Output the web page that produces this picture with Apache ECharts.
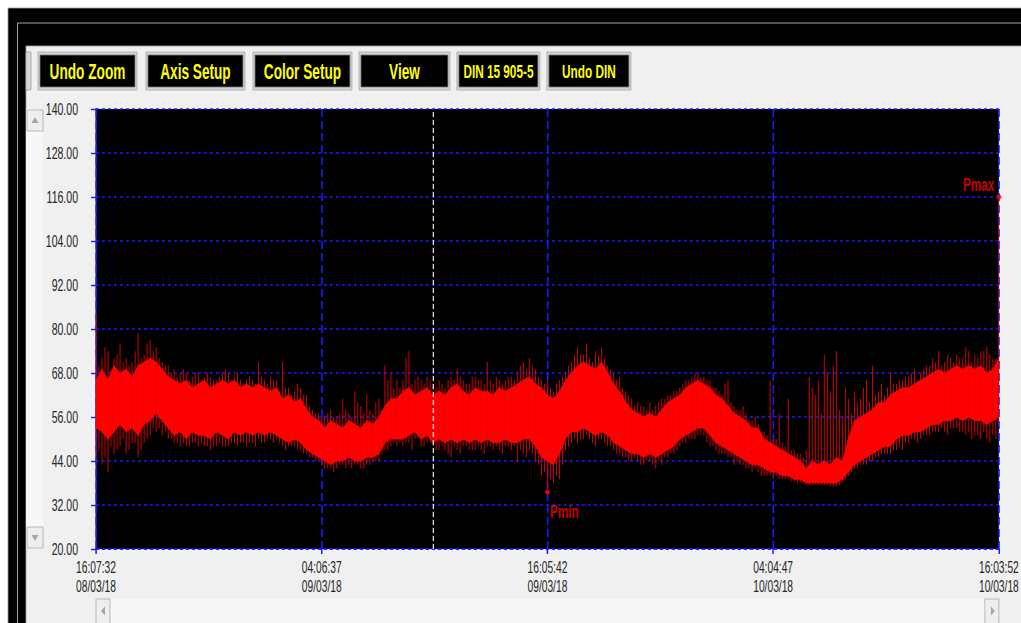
<!DOCTYPE html>
<html>
<head>
<meta charset="utf-8">
<script src="https://cdn.jsdelivr.net/npm/echarts@6/dist/echarts.min.js"></script>
<style>
  html, body { margin: 0; padding: 0; background: #ffffff; overflow: hidden; width: 1021px; height: 623px; }
  #wrap { position: relative; width: 1021px; height: 623px; overflow: hidden; }
  /* the logger window uses a narrow face: the panel is laid out wide, then its svg is squeezed */
  #chart { position: absolute; left: 0; top: 0; width: 1647px; height: 623px; }
</style>
</head>
<body>
<div id="wrap"><div id="chart"></div></div>
<script>
// ---- recording: pressure log 08/03/18 16:07:32 .. 10/03/18 16:03:52 ----
const startUTC = Date.UTC(2018, 2, 8, 16, 7, 32);
const spanSec = 172580;          // length of the recording in seconds
const tickSec = 43145;           // spacing of the time ticks
const cursorSec = 64410;         // position of the white cursor line

const xTickLabels = [
  '16:07:32\n08/03/18',
  '04:06:37\n09/03/18',
  '16:05:42\n09/03/18',
  '04:04:47\n10/03/18',
  '16:03:52\n10/03/18'
];

// upper edge of the dense signal band, per sample
const hi = [
  66,69,66,70,68,69,67,70,71,72, 71,69,67,66,65,66,64,65,66,64,
  65,66,65,66,64,65,64,65,64,63, 64,61,62,60,61,58,56,55,53,55,
  54,53,55,54,53,55,54,56,59,61, 61,63,64,62,63,64,62,63,62,64,
  65,63,62,64,63,63,62,64,63,64, 65,66,67,65,64,62,61,63,66,68,
  70,71,70,69,71,68,65,63,60,58, 57,56,57,56,58,60,61,62,64,65,
  66,65,64,62,61,59,57,56,55,53, 53,50,49,48,47,46,45,44,42,44,
  43,44,43,45,44,50,55,56,57,58, 60,60,62,63,64,64,65,66,67,68,
  69,68,69,70,69,70,69,70,68,69, 72
];
// lower edge of the dense signal band, per sample
const lo = [
  53,52,50,52,54,52,53,51,54,55, 57,55,53,51,52,50,52,51,51,50,
  52,51,50,52,51,52,51,52,51,52, 51,50,49,50,49,47,46,45,44,43,
  44,44,45,44,44,45,45,46,49,50, 50,50,51,52,50,51,49,50,49,50,
  49,50,49,50,49,50,49,49,50,49, 49,50,50,48,45,44,43,46,50,52,
  52,53,52,51,52,51,49,48,47,46, 46,45,46,45,46,47,48,50,51,52,
  53,53,51,49,48,47,46,45,44,43, 43,42,41,41,40,40,39,39,38,38,
  38,38,38,38,39,41,43,44,45,46, 47,48,48,50,51,51,52,52,53,54,
  54,55,55,56,55,56,55,55,54,55, 56
];
// tips of the upward spikes at each sample
const peak = [
  84,72,74,72,76,72,71,79,73,77, 75,71,70,69,68,68,67,68,67,67,
  66,68,68,67,66,66,66,71,66,67, 66,71,64,63,64,62,58,57,56,58,
  56,61,57,63,59,62,57,61,70,68, 66,66,74,66,66,67,65,66,64,67,
  69,66,65,67,66,71,65,66,66,67, 68,71,72,69,66,66,63,66,68,71,
  75,73,72,74,75,70,68,67,63,61, 60,59,60,59,61,62,63,64,66,67,
  68,67,66,64,62,66,59,58,57,55, 54,52,66,50,49,61,47,46,47,64,
  66,73,63,74,56,61,63,61,66,70, 63,62,68,65,66,67,69,68,70,72,
  74,71,72,73,72,74,73,74,75,72, 116
];
// tips of the downward spikes at each sample
const trough = [
  44,43,41,46,48,46,49,45,49,51, 52,51,50,49,48,48,49,48,48,47,
  48,48,48,49,49,48,49,50,49,50, 50,48,48,48,47,46,45,44,42,42,
  42,43,43,43,42,43,44,44,47,48, 48,48,49,50,48,49,48,47,47,45,
  47,48,47,47,47,48,47,47,48,47, 44,46,47,44,40,35.5,38,39,47,49,
  49,50,50,48,50,48,47,46,45,44, 44,43,44,42,43,45,46,48,49,50,
  51,51,48,47,46,45,43,43,42,41, 41,40,40,40,39,39,38.5,38,37.5,37.5,
  37.5,37.5,37,37,38,40,42,43,43,44, 45,46,46,47,47,49,50,50,51,52,
  52,52,53,53,52,52,51,50,50,51, 54
];
// spike tips half way between samples
const peakMid = [
  70,75,69,73,71,70,74,72,76,74, 72,70,68,67,69,66,68,66,68,66,
  67,69,66,68,65,67,65,67,65,66, 63,64,62,65,62,59,57,56,57,56,
  57,58,56,60,57,58,60,58,66,64, 64,72,65,67,65,66,64,65,66,66,
  67,65,67,66,65,66,67,65,67,66, 70,69,70,67,65,64,65,67,70,73,
  73,76,71,73,72,69,66,64,62,59, 59,58,58,60,61,62,63,65,66,68,
  67,66,64,63,65,60,58,59,55,56, 52,51,50,57,48,47,46,45,67,62,
  57,68,70,58,64,57,60,64,60,62, 65,64,65,66,67,68,66,69,70,71,
  70,73,71,72,75,71,72,74,73,72
];
const troughMid = [
  47,45,48,47,50,47,49,47,50,53, 53,52,50,49,49,48,49,49,48,48,
  49,48,49,48,49,49,48,49,50,49, 49,47,48,47,46,45,44,43,42,41,
  43,42,42,43,42,43,44,46,47,49, 49,49,47,50,48,49,47,48,46,48,
  46,48,47,48,46,48,48,46,48,48, 47,45,46,43,41,39,40,43,48,50,
  50,51,49,50,49,48,46,45,44,45, 43,44,43,44,45,46,47,49,50,50,
  51,49,48,46,46,45,44,43,42,42, 40,40,39,39,39,38.5,38,38,37.5,37.5,
  37.5,37.5,37,37.5,39,41,42,43,44,45, 46,46,47,48,49,50,49,51,51,52,
  53,51,53,52,51,50,51,52,49,50
];

const SX = 0.62;                 // horizontal squeeze applied to the panel
const X = v => v / SX;           // panel x (screen px) -> layout px
const layoutWidth = 1647;
const layoutHeight = 623;
const sampleCount = hi.length;
const stepSec = spanSec / (sampleCount - 1);
const times = hi.map((_, i) => Math.round(i * stepSec));

// one row per sample: current sample plus the next one for the band segment
const bandRows = times.map((t, i) => {
  const n = i + 1 < sampleCount ? i + 1 : i;
  return [t, lo[i], hi[i], trough[i], peak[i], times[n], lo[n], hi[n]];
});
const midRows = peakMid.map((p, i) => [Math.round((i + 0.5) * stepSec), troughMid[i], p]);

let iMax = 0, iMin = 0;
peak.forEach((v, i) => { if (v > peak[iMax]) iMax = i; });
trough.forEach((v, i) => { if (v < trough[iMin]) iMin = i; });

const pad2 = n => (n < 10 ? '0' : '') + n;
function stamp(sec) {
  const d = new Date(startUTC + sec * 1000);
  return pad2(d.getUTCHours()) + ':' + pad2(d.getUTCMinutes()) + ':' + pad2(d.getUTCSeconds()) +
    '\n' + pad2(d.getUTCDate()) + '/' + pad2(d.getUTCMonth() + 1) + '/' + String(d.getUTCFullYear()).slice(2);
}

const GRID_BLUE = '#1a1aff';
const SPIKE_RED = '#d40000';
const LABEL_FONT = '"Liberation Sans", Arial, sans-serif';

// ---- window chrome: frame, buttons, scroll bars ----
const chrome = [];
function box(x0, y0, x1, y1, fill, stroke, z) {
  chrome.push({
    type: 'rect', z: z, silent: true,
    shape: { x: X(x0), y: y0, width: X(x1) - X(x0), height: y1 - y0 },
    style: { fill: fill, stroke: stroke || null, lineWidth: 1 }
  });
}
function tri(points, z) {
  chrome.push({
    type: 'polygon', z: z, silent: true,
    shape: { points: points.map(p => [X(p[0]), p[1]]) },
    style: { fill: '#a6a6a6' }
  });
}
box(8, 8, 1030, 640, '#000000', '#9a9a9a', -30);
box(17.5, 23, 1030, 640, '#000000', '#c8c8c8', -29);
box(26, 46, 1030, 640, '#f0f0f0', '#a0a0a0', -28);
box(26, 52, 31, 90, '#d6d6d6', '#a0a0a0', -20);

const buttons = [
  ['Undo Zoom', 38, 137, 22],
  ['Axis Setup', 146, 245, 22],
  ['Color Setup', 253, 352, 22],
  ['View', 359, 450, 22],
  ['DIN 15 905-5', 457, 540, 19],
  ['Undo DIN', 547, 631, 19]
];
buttons.forEach(([txt, x0, x1, fs]) => {
  box(x0, 52, x1, 90, '#d4d4d4', '#a8a8a8', -20);
  box(x0 + 2, 55, x1 - 2, 87, '#000000', '#7a7a7a', -19);
  chrome.push({
    type: 'text', z: -18, silent: true,
    style: {
      text: txt, x: X((x0 + x1) / 2), y: 71, align: 'center', verticalAlign: 'middle',
      fill: '#ffff00', fontSize: fs, fontWeight: 'bold', fontFamily: LABEL_FONT
    }
  });
});

// vertical scroll bar
box(26, 109, 43, 549, '#f7f7f7', null, -20);
box(27, 110, 43, 131, '#eeeeee', '#a8a8a8', -19);
tri([[35, 117], [31.5, 123], [38.5, 123]], -18);
box(27, 527, 43, 548, '#eeeeee', '#a8a8a8', -19);
tri([[35, 541], [31.5, 535], [38.5, 535]], -18);
// horizontal scroll bar
box(96, 599, 999, 630, '#f7f7f7', null, -20);
box(96, 599, 110, 630, '#eeeeee', '#a8a8a8', -19);
tri([[101, 611], [105, 606.5], [105, 615.5]], -18);
box(985, 599, 999, 630, '#eeeeee', '#a8a8a8', -19);
tri([[995, 611], [991, 606.5], [991, 615.5]], -18);

const chartDom = document.getElementById('chart');
const chart = echarts.init(chartDom, null, { renderer: 'svg' });

function spikeLine(a, b) {
  return { type: 'line', shape: { x1: a[0], y1: a[1], x2: b[0], y2: b[1] },
           style: { stroke: SPIKE_RED, lineWidth: 1.6 } };
}

chart.setOption({
  animation: false,
  backgroundColor: 'transparent',
  graphic: { elements: chrome },
  grid: {
    show: true, backgroundColor: '#000000', borderWidth: 0,
    left: X(96), right: layoutWidth - X(999), top: 109, bottom: 74,
    outerBoundsMode: 'none'
  },
  xAxis: {
    type: 'value', min: 0, max: spanSec, interval: tickSec,
    axisLine: { show: true, lineStyle: { color: GRID_BLUE, width: 1.6, type: [X(3), X(3)] } },
    axisTick: { show: true, length: 5, lineStyle: { color: GRID_BLUE, width: 2.4 } },
    axisLabel: {
      show: true, margin: 9, fontSize: 16.5, lineHeight: 19, color: '#262626',
      fontFamily: LABEL_FONT, showMinLabel: true, showMaxLabel: true,
      formatter: v => xTickLabels[Math.round(v / tickSec)] || stamp(v)
    },
    splitLine: { show: true, lineStyle: { color: GRID_BLUE, width: 2.6, type: [8, 4] } }
  },
  yAxis: {
    type: 'value', min: 20, max: 140, interval: 12,
    axisLine: { show: true, lineStyle: { color: '#2020c0', width: 2.2 } },
    axisTick: { show: true, length: X(5), lineStyle: { color: GRID_BLUE, width: 1.4 } },
    axisLabel: {
      show: true, margin: X(18), fontSize: 17, color: '#262626', fontFamily: LABEL_FONT,
      formatter: v => v.toFixed(2)
    },
    splitLine: { show: true, lineStyle: { color: GRID_BLUE, width: 1.6, type: [X(3), X(3)] } }
  },
  series: [
    {
      // spikes between the samples
      type: 'custom',
      clip: true,
      data: midRows,
      encode: { x: 0, y: [1, 2] },
      renderItem: function (params, api) {
        return spikeLine(api.coord([api.value(0), api.value(1)]), api.coord([api.value(0), api.value(2)]));
      },
      z: 2
    },
    {
      // signal band: filled segment between samples plus the spike tips
      type: 'custom',
      clip: true,
      data: bandRows,
      encode: { x: 0, y: [1, 2, 3, 4] },
      renderItem: function (params, api) {
        const t = api.value(0), l = api.value(1), h = api.value(2);
        const tr = api.value(3), pk = api.value(4);
        const tn = api.value(5), ln = api.value(6), hn = api.value(7);
        const a = api.coord([t, l]), b = api.coord([t, h]);
        const c = api.coord([tn, hn]), d = api.coord([tn, ln]);
        const children = [
          spikeLine(api.coord([t, tr]), api.coord([t, pk]))
        ];
        if (tn !== t) {
          children.push({
            type: 'polygon', shape: { points: [a, b, c, d] },
            style: { fill: '#ff0000', stroke: '#ff0000', lineWidth: 1 }
          });
        }
        return { type: 'group', children: children };
      },
      z: 3
    },
    {
      // extreme values and the cursor
      type: 'scatter',
      symbol: 'circle',
      symbolSize: [X(5), 5],
      itemStyle: { color: '#ff0000' },
      data: [
        { name: 'Pmax', value: [times[iMax], peak[iMax]],
          label: { show: true, position: [-3.2, -10.5], align: 'right', verticalAlign: 'middle' } },
        { name: 'Pmin', value: [times[iMin], trough[iMin]],
          label: { show: true, position: [8, 21.5], align: 'left', verticalAlign: 'middle' } }
      ],
      label: {
        formatter: p => p.name, color: '#ff0000', fontSize: 19, fontWeight: 'bold',
        fontFamily: LABEL_FONT
      },
      markLine: {
        silent: true, symbol: 'none', label: { show: false },
        lineStyle: { color: '#ffffff', width: 1.8, type: [5, 3] },
        data: [{ xAxis: cursorSec }]
      },
      z: 5
    }
  ]
});

// squeeze the drawn svg into the 1021 px window
function squeeze() {
  const svg = chartDom.querySelector('svg');
  if (!svg) return;
  svg.setAttribute('viewBox', '0 0 ' + layoutWidth + ' ' + layoutHeight);
  svg.setAttribute('preserveAspectRatio', 'none');
  svg.setAttribute('width', Math.round(layoutWidth * SX));
  svg.style.width = Math.round(layoutWidth * SX) + 'px';
}
squeeze();
chart.on('finished', squeeze);
setTimeout(squeeze, 0);
</script>
</body>
</html>
